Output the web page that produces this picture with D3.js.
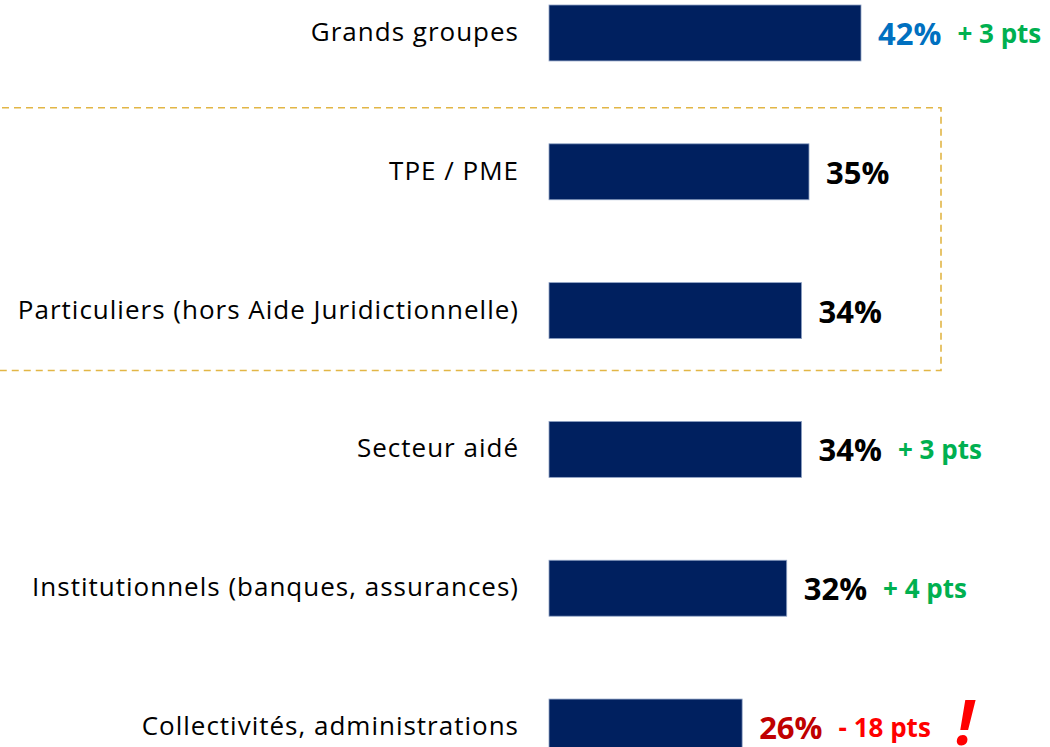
<!DOCTYPE html>
<html>
<head>
<meta charset="utf-8">
<script src="https://cdn.jsdelivr.net/npm/d3@7"></script>
<style>
  html, body { margin: 0; padding: 0; background: #ffffff; }
  svg { display: block; }
</style>
</head>
<body>
<script>
// ---- data ----
const categories = [
  "Grands groupes",
  "TPE / PME",
  "Particuliers (hors Aide Juridictionnelle)",
  "Secteur aidé",
  "Institutionnels (banques, assurances)",
  "Collectivités, administrations"
];
const values = [42, 35, 34, 34, 32, 26];
const valueLabels = ["42%", "35%", "34%", "34%", "32%", "26%"];
const deltaLabels = ["+ 3 pts", "", "", "+ 3 pts", "+ 4 pts", "- 18 pts"];
const highlighted = ["TPE / PME", "Particuliers (hors Aide Juridictionnelle)"];

// ---- styles ----
const valueColors = ["#0070C0", "#000000", "#000000", "#000000", "#000000", "#C00000"];
const deltaColors = ["#00B050", "", "", "#00B050", "#00B050", "#FF0000"];
const FONT = "'Open Sans', 'Noto Sans', sans-serif";

const W = 1050, H = 747;
const svg = d3.select("body").append("svg").attr("width", W).attr("height", H);

const x = d3.scaleLinear().domain([0, 42]).range([549, 861]);
const y = d3.scaleBand().domain(categories).range([5, 755]).paddingInner(0.597).paddingOuter(0);
const bw = y.bandwidth();
const cy = c => y(c) + bw / 2;

// highlight dashed box around TPE/PME and Particuliers
const hTop = y(highlighted[0]) - 36;
const hBot = y(highlighted[highlighted.length - 1]) + bw + 32;
svg.append("path")
  .attr("d", `M-10,${hTop} H941 V${hBot} H-10`)
  .attr("fill", "none")
  .attr("stroke", "#E2B646")
  .attr("stroke-width", 1.6)
  .attr("stroke-dasharray", "7,5");

// bars
svg.selectAll("rect.bar").data(categories).enter().append("rect")
  .attr("class", "bar")
  .attr("x", x(0))
  .attr("y", d => y(d))
  .attr("width", (d, i) => x(values[i]) - x(0))
  .attr("height", bw)
  .attr("fill", "#00205F")
  .attr("stroke", "#8FA2C4")
  .attr("stroke-width", 0.8);

// category labels
svg.selectAll("text.cat").data(categories).enter().append("text")
  .attr("class", "cat")
  .attr("x", 519)
  .attr("y", d => cy(d) + 8)
  .attr("text-anchor", "end")
  .attr("font-family", FONT)
  .attr("font-size", 26)
  .attr("letter-spacing", 1)
  .attr("fill", "#000")
  .text(d => d);

// value labels
const vl = svg.selectAll("text.val").data(categories).enter().append("text")
  .attr("class", "val")
  .attr("x", (d, i) => x(values[i]) + 17)
  .attr("y", d => cy(d) + 12)
  .attr("font-family", FONT)
  .attr("font-weight", 700)
  .attr("font-size", 31)
  .attr("fill", (d, i) => valueColors[i])
  .text((d, i) => valueLabels[i]);

const vEnds = [];
vl.each(function (d, i) { vEnds[i] = x(values[i]) + 17 + this.getComputedTextLength(); });

// delta labels
svg.selectAll("text.delta").data(categories).enter().append("text")
  .attr("class", "delta")
  .attr("x", (d, i) => vEnds[i] + 16)
  .attr("y", d => cy(d) + 10)
  .attr("font-family", FONT)
  .attr("font-weight", 700)
  .attr("font-size", 26)
  .attr("fill", (d, i) => deltaColors[i] || "#000")
  .text((d, i) => deltaLabels[i]);

// exclamation mark on last row
const last = categories[categories.length - 1];
svg.append("text")
  .attr("x", 956)
  .attr("y", cy(last) + 18)
  .attr("font-family", FONT)
  .attr("font-weight", 700)
  .attr("font-style", "italic")
  .attr("font-size", 62)
  .attr("fill", "#FF0000")
  .text("!");
</script>
</body>
</html>
